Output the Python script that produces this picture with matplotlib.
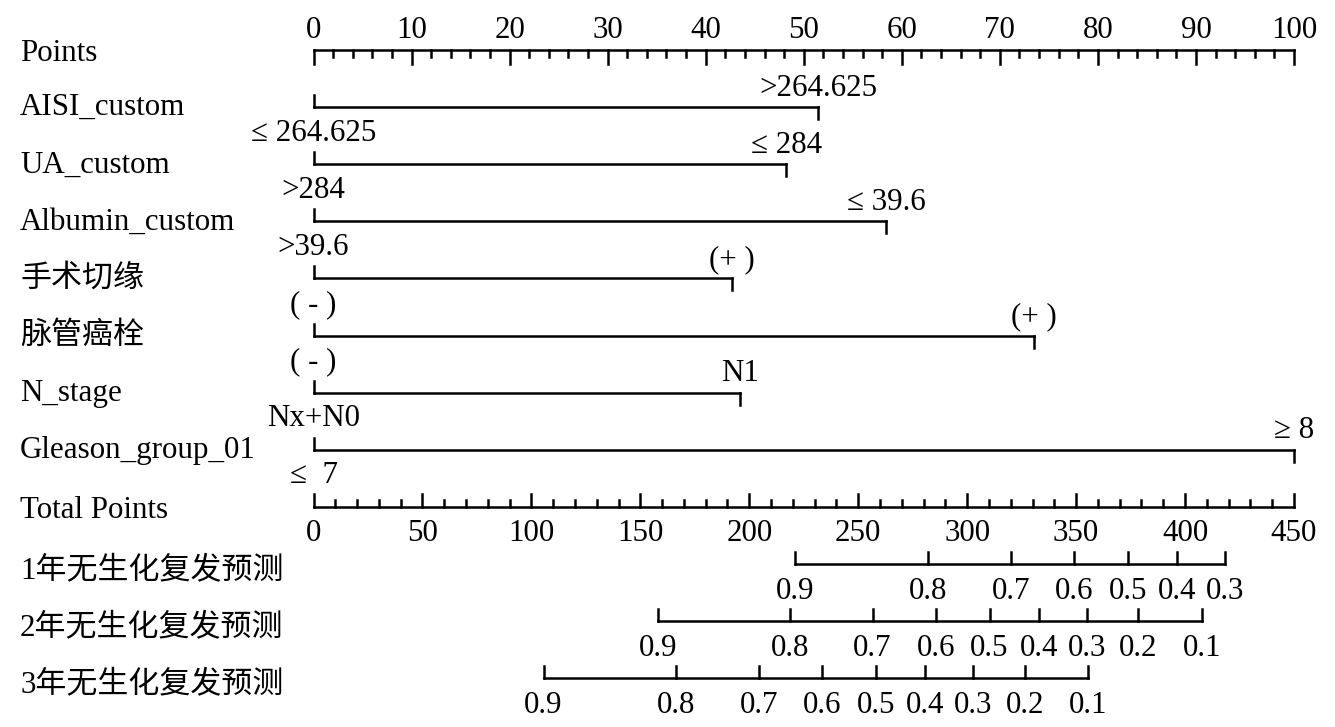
import numpy as np
import matplotlib.pyplot as plt

plt.rcParams['font.family'] = ['Liberation Serif', 'Noto Sans CJK SC']

# data
points_ticks = np.arange(0, 101, 10)
variables = ['AISI_custom', 'UA_custom', 'Albumin_custom', '手术切缘', '脉管癌栓',
             'N_stage', 'Gleason_group_01']
var_points = [51.5, 48.2, 58.4, 42.7, 73.5, 43.5, 100]
low_labels = ['≤ 264.625', '>284', '>39.6', '( - )', '( - )', 'Nx+N0', '≤  7']
high_labels = ['>264.625', '≤ 284', '≤ 39.6', '(+ )', '(+ )', 'N1', '≥ 8']

total_max = 450
total_ticks = np.arange(0, 451, 50)

surv_names = ['1年无生化复发预测', '2年无生化复发预测', '3年无生化复发预测']
surv_probs = [
    [0.9, 0.8, 0.7, 0.6, 0.5, 0.4, 0.3],
    [0.9, 0.8, 0.7, 0.6, 0.5, 0.4, 0.3, 0.2, 0.1],
    [0.9, 0.8, 0.7, 0.6, 0.5, 0.4, 0.3, 0.2, 0.1],
]
surv_total = [
    [221.2, 282.1, 320.0, 349.1, 373.9, 396.4, 418.3],
    [158.0, 218.9, 256.6, 285.8, 310.3, 333.0, 355.0, 378.5, 407.7],
    [105.6, 166.4, 204.5, 233.5, 258.3, 280.6, 302.8, 326.4, 355.5],
]

W, H = 1335, 727
x0_px, x100_px = 313.5, 1294
row0_px, row_px = 50, 57.1
pxx = (x100_px - x0_px) / 100.0

fig = plt.figure(figsize=(W / 100, H / 100), dpi=100)
ax = fig.add_axes([0, 0, 1, 1])
ax.set_xlim(-x0_px / pxx, (W - x0_px) / pxx)
ax.set_ylim((H - row0_px) / row_px, -row0_px / row_px)
ax.axis('off')

lw = 1.8
fs = 22.3
k = 'black'
big = 14 / row_px
small = 7 / row_px
endt = 12 / row_px
off = 23 / row_px
dy = 3.5 / row_px   # text sits a little lower than its box centre
lab_x = (20 - x0_px) / pxx


def tot2pt(t):
    return np.asarray(t, dtype=float) * 100.0 / total_max


def txt(x, y, s, ha='center'):
    ax.text(x, y + dy, s, fontsize=fs, ha=ha, va='center')


row = 0
# Points axis
txt(lab_x, row, 'Points', ha='left')
ax.plot([0, 100], [row, row], color=k, lw=lw)
for v in np.arange(0, 101, 2):
    ln = big if v % 10 == 0 else small
    ax.plot([v, v], [row, row + ln], color=k, lw=lw)
for v in points_ticks:
    txt(v, row - off, str(v))

# variables
for i, name in enumerate(variables):
    r = i + 1
    p = var_points[i]
    txt(lab_x, r - 0.05, name, ha='left')
    ax.plot([0, p], [r, r], color=k, lw=lw)
    ax.plot([0, 0], [r, r - endt], color=k, lw=lw)
    ax.plot([p, p], [r, r + endt], color=k, lw=lw)
    txt(0, r + off * 0.98, low_labels[i])
    txt(p, r - off * 0.98, high_labels[i])

# Total points axis
r = len(variables) + 1
txt(lab_x, r, 'Total Points', ha='left')
ax.plot([0, 100], [r, r], color=k, lw=lw)
for t in np.arange(0, total_max + 1, 10):
    ln = big * 0.95 if t % 50 == 0 else small
    x = tot2pt(t)
    ax.plot([x, x], [r, r - ln], color=k, lw=lw)
for t in total_ticks:
    txt(tot2pt(t), r + off, str(t))

# survival axes
for j, name in enumerate(surv_names):
    r = len(variables) + 2 + j
    xs = tot2pt(surv_total[j])
    txt(lab_x, r + 0.07, name, ha='left')
    ax.plot([xs.min(), xs.max()], [r, r], color=k, lw=lw)
    for x, pr in zip(xs, surv_probs[j]):
        ax.plot([x, x], [r, r - endt], color=k, lw=lw)
        txt(x, r + off * 1.05, f'{pr:.1f}')

fig.savefig('out.png', dpi=100, facecolor='white')
